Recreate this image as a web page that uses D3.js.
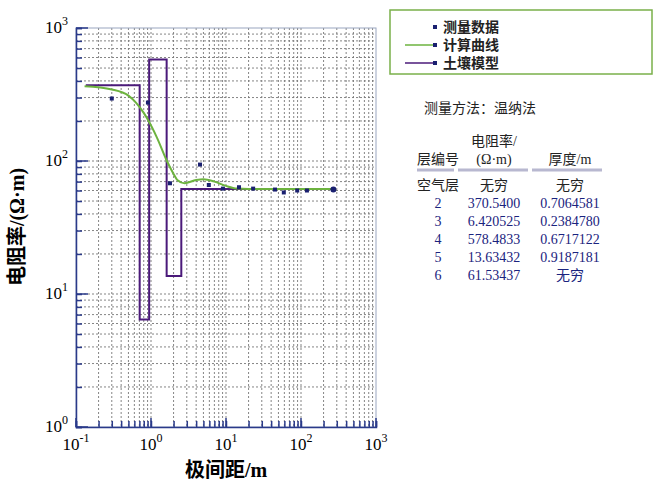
<!DOCTYPE html><html><head><meta charset="utf-8">
<script src="https://cdn.jsdelivr.net/npm/d3@7"></script>
<style>body{margin:0;background:#fff}</style></head><body><svg id="c" width="660" height="491"></svg>
<script>
const measX=[0.30,0.91,1.79,4.5,5.9,9.1,14.9,23,45,59,89,120,270];
const measY=[295,275,68,94,66,62,63.5,62,61,58,60,60,61];
const curveX=[0.13,0.3,0.5,0.63,0.8,0.91,1.2,1.63,2.0,2.24,2.8,4,5,7,10,14,20,50,280];
const curveY=[365,345,310,275,230,204,150,100,80,72,68,72,73,70,65,62,61.5,61.5,61.5];
const layerRho=[370.54,6.420525,578.4833,13.63432,61.53437];
const layerThick=[0.7064581,0.2384780,0.6717122,0.9187181];
const modelStart=0.135, modelEnd=275;
const tableRows=[["空气层","无穷","无穷"],["2","370.5400","0.7064581"],["3","6.420525","0.2384780"],["4","578.4833","0.6717122"],["5","13.63432","0.9187181"],["6","61.53437","无穷"]];
const legendItems=["测量数据","计算曲线","土壤模型"];
const svg=d3.select("#c");
const F="'Liberation Serif','Noto Sans CJK SC',serif";
const x=d3.scaleLog().domain([0.1,1000]).range([76,376]);
const y=d3.scaleLog().domain([1,1000]).range([427,28]);
const g=svg.append("g");
const xt=[],yt=[];
for(let e=-1;e<3;e++)for(let k=1;k<10;k++)xt.push(k*10**e);
for(let e=0;e<3;e++)for(let k=1;k<10;k++)yt.push(k*10**e);
g.selectAll(".gx").data(xt.slice(1)).join("line").attr("x1",d=>x(d)).attr("x2",d=>x(d)).attr("y1",28).attr("y2",427).attr("stroke","#777").attr("stroke-dasharray","2,2").attr("stroke-width",0.9);
g.selectAll(".gy").data(yt.slice(1)).join("line").attr("y1",d=>y(d)).attr("y2",d=>y(d)).attr("x1",76).attr("x2",376).attr("stroke","#777").attr("stroke-dasharray","2,2").attr("stroke-width",0.9);
g.append("rect").attr("x",76).attr("y",28).attr("width",300).attr("height",399).attr("fill","none").attr("stroke","#9aa6c0");
const xa=d3.axisBottom(x).tickValues(xt.concat([1000])).tickSize(-6).tickFormat("");
g.append("g").attr("transform","translate(0,427)").call(xa).call(s=>{s.selectAll("path,line").attr("stroke","#2a3a8a").attr("stroke-width",1.5);});
const xmaj=[0.1,1,10,100,1000];
g.selectAll("line.xm").data(xmaj).join("line").attr("x1",d=>x(d)).attr("x2",d=>x(d)).attr("y1",427).attr("y2",418).attr("stroke","#2a3a8a").attr("stroke-width",1.5);
const ya=d3.axisLeft(y).tickValues(yt.concat([1000])).tickSize(-6).tickFormat("");
g.append("g").attr("transform","translate(76,0)").call(ya).call(s=>{s.selectAll("path,line").attr("stroke","#2a3a8a").attr("stroke-width",1.5);});
g.selectAll("line.ym").data([1,10,100,1000]).join("line").attr("y1",d=>y(d)).attr("y2",d=>y(d)).attr("x1",76).attr("x2",88).attr("stroke","#2a3a8a").attr("stroke-width",1.5);
xmaj.forEach(v=>{const t=g.append("text").attr("x",x(v)).attr("y",450).attr("text-anchor","middle").attr("font-family",F).attr("font-size",17);
t.append("tspan").text("10");t.append("tspan").attr("dy",-8).attr("font-size",12).text(Math.log10(v));});
[1,10,100,1000].forEach(v=>{const t=g.append("text").attr("x",68).attr("y",y(v)+5).attr("text-anchor","end").attr("font-family",F).attr("font-size",17);
t.append("tspan").text("10");t.append("tspan").attr("dy",-8).attr("font-size",12).text(Math.log10(v));});
g.append("text").attr("x",226).attr("y",477).attr("text-anchor","middle").attr("font-family",F).attr("font-size",20).attr("font-weight","bold").text("极间距/m");
g.append("text").attr("transform","translate(24,227) rotate(-90)").attr("text-anchor","middle").attr("font-family",F).attr("font-size",20).attr("font-weight","bold").text("电阻率/(Ω·m)");
const depths=[modelStart];let cum=0;layerThick.forEach(t=>{cum+=t;depths.push(cum);});depths.push(modelEnd);
const mp=[];layerRho.forEach((r,i)=>{mp.push([depths[i],r]);mp.push([depths[i+1],r]);});
g.append("path").datum(mp).attr("d",d3.line().x(d=>x(d[0])).y(d=>y(d[1]))).attr("fill","none").attr("stroke","#4b1a7a").attr("stroke-width",2);
g.append("path").datum(curveX.map((v,i)=>[v,curveY[i]])).attr("d",d3.line().curve(d3.curveMonotoneX).x(d=>x(d[0])).y(d=>y(d[1]))).attr("fill","none").attr("stroke","#6db33f").attr("stroke-width",2);
g.selectAll("rect.pt").data(measX.map((v,i)=>[v,measY[i]])).join("rect").attr("x",d=>x(d[0])-2).attr("y",d=>y(d[1])-2).attr("width",4).attr("height",4).attr("fill","#1a2070");
g.append("circle").attr("cx",x(270)).attr("cy",y(61)).attr("r",3).attr("fill","#1a2070");
svg.append("rect").attr("x",390).attr("y",10).attr("width",262).attr("height",64).attr("fill","#fff").attr("stroke","#7ab04a").attr("stroke-width",1.5);
const lc=[null,"#6db33f","#4b1a7a"];
legendItems.forEach((t,i)=>{const yy=27+i*18;
 if(lc[i])svg.append("line").attr("x1",405).attr("x2",434).attr("y1",yy).attr("y2",yy).attr("stroke",lc[i]).attr("stroke-width",1.5);
 svg.append("rect").attr("x",433).attr("y",yy-2).attr("width",4).attr("height",4).attr("fill","#1a2070");
 svg.append("text").attr("x",443).attr("y",yy+5).attr("font-family",F).attr("font-size",14).attr("font-weight","bold").attr("fill","#222").text(t);});
svg.append("text").attr("x",424).attr("y",113).attr("font-family",F).attr("font-size",14).attr("fill","#222").text("测量方法：温纳法");
const cx=[438,494,570];
svg.append("text").attr("x",cx[0]).attr("y",164).attr("text-anchor","middle").attr("font-family",F).attr("font-size",14).attr("fill","#222").text("层编号");
svg.append("text").attr("x",cx[1]).attr("y",146).attr("text-anchor","middle").attr("font-family",F).attr("font-size",14).attr("fill","#222").text("电阻率/");
svg.append("text").attr("x",cx[1]).attr("y",164).attr("text-anchor","middle").attr("font-family",F).attr("font-size",14).attr("fill","#222").text("(Ω·m)");
svg.append("text").attr("x",cx[2]).attr("y",164).attr("text-anchor","middle").attr("font-family",F).attr("font-size",14).attr("fill","#222").text("厚度/m");
[[417,454],[458,528],[532,602]].forEach(s=>svg.append("line").attr("x1",s[0]).attr("x2",s[1]).attr("y1",170).attr("y2",170).attr("stroke","#b8b8d0").attr("stroke-width",3));
tableRows.forEach((r,i)=>r.forEach((t,j)=>svg.append("text").attr("x",cx[j]).attr("y",190+i*18).attr("text-anchor","middle").attr("font-family",F).attr("font-size",14).attr("fill",i==0?"#222":"#1a237e").text(t)));
</script></body></html>
